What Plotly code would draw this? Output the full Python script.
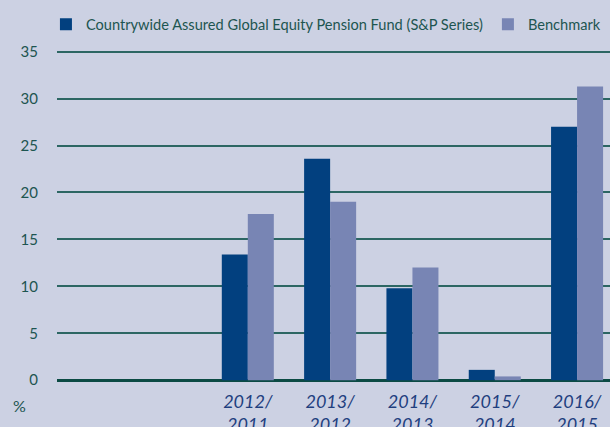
import plotly.graph_objects as go

categories = [" ", "  ", "2012/<br>2011", "2013/<br>2012", "2014/<br>2013", "2015/<br>2014", "2016/<br>2015"]
fund = [None, None, 13.4, 23.6, 9.8, 1.1, 27.0]
benchmark = [None, None, 17.7, 19.0, 12.0, 0.4, 31.3]
y_ticks = [0, 5, 10, 15, 20, 25, 30, 35]

BG = "#ccd1e3"
DARK = "#02407f"
LIGHT = "#7885b4"
TEAL = "#1d5550"

fig = go.Figure()
fig.add_trace(go.Bar(x=categories, y=fund, name="Countrywide Assured Global Equity Pension Fund (S&P Series)",
                     marker=dict(color=DARK, line=dict(width=0))))
fig.add_trace(go.Bar(x=categories, y=benchmark, name="Benchmark",
                     marker=dict(color=LIGHT, line=dict(width=0))))

fig.update_layout(
    width=610, height=427,
    margin=dict(l=57, r=0, t=47, b=44),
    paper_bgcolor=BG, plot_bgcolor=BG,
    barmode="group", bargap=0.368, bargroupgap=0,
    font=dict(family="Lato", color=TEAL, size=15),
    showlegend=True,
    legend=dict(orientation="h", x=-0.02, y=1.02, xanchor="left", yanchor="bottom",
                font=dict(size=14.6, color=TEAL), bgcolor="rgba(0,0,0,0)",
                itemwidth=30, traceorder="normal"),
    xaxis=dict(type="category", categoryorder="array", categoryarray=categories,
               range=[-0.318, 6.40], showgrid=False, zeroline=False, showline=False,
               ticks="", ticklabelstandoff=6, automargin=False,
               tickfont=dict(family="Lato", size=18, color="#1f3f7f", style="italic")),
    yaxis=dict(range=[-0.3, 35.5], tickvals=y_ticks, showgrid=True, gridcolor="#2c6663", gridwidth=2,
               zeroline=True, zerolinecolor="#0b4a44", zerolinewidth=3, showline=False, automargin=False,
               ticks="", ticklabelstandoff=18, tickfont=dict(size=15, color=TEAL)),
    annotations=[dict(text="%", xref="paper", yref="paper", x=(19 - 57) / 553, y=(427 - 44 - 405) / 336,
                      xanchor="center", yanchor="middle", showarrow=False,
                      font=dict(size=16, color=TEAL))],
)

fig.write_html("out.html")
